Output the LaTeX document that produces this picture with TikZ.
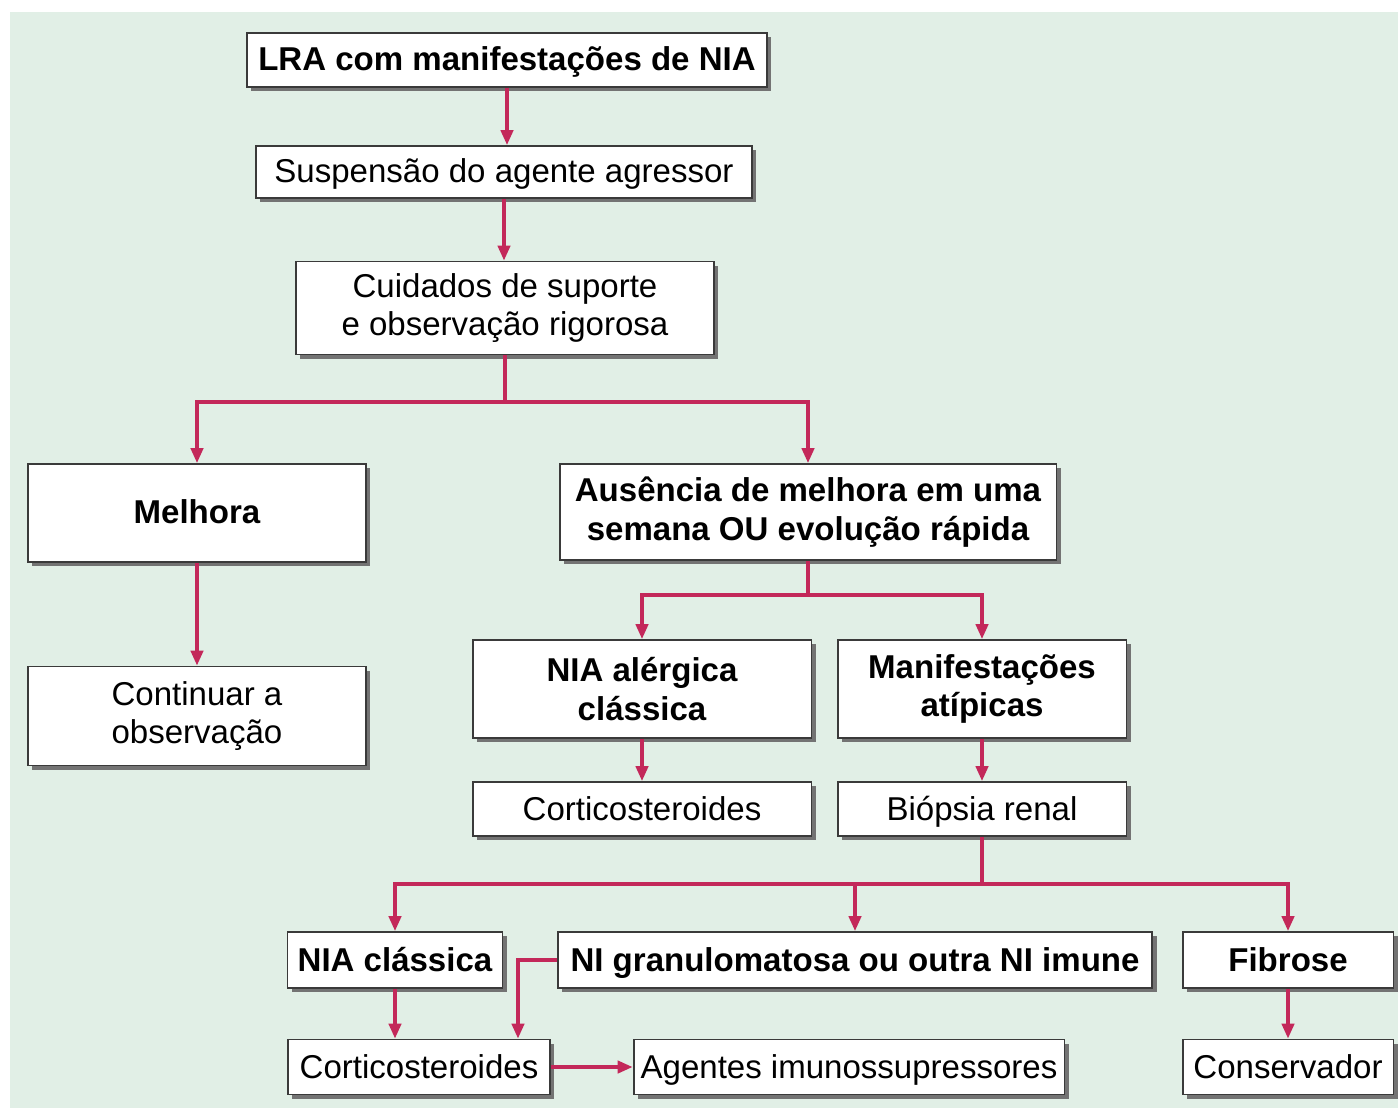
\documentclass[tikz,border=0pt]{standalone}
\usepackage{fontspec}
\setmainfont{Liberation Sans}
\usetikzlibrary{arrows.meta,shadows}
\definecolor{bgreen}{HTML}{E1EFE6}
\definecolor{crimson}{HTML}{C3285A}
\definecolor{edgegray}{HTML}{3A3A3A}
\tikzset{
  box/.style={draw=edgegray, line width=1.1pt, fill=white, inner sep=0pt, align=center,
    font=\fontsize{18.8}{22}\selectfont,
    drop shadow={shadow xshift=2.5pt, shadow yshift=-2.5pt, fill=black!55, opacity=1}},
  bbox/.style={box, font=\fontsize{18.8}{22}\selectfont\bfseries},
  oneline/.style={text height=13.5pt, text depth=1pt},
  link/.style={draw=crimson, line width=1.9pt},
  arr/.style={link, -{Triangle[length=8.5pt,width=7pt]}},
}
\begin{document}
\begin{tikzpicture}[x=0.02cm,y=-0.02cm]
                \useasboundingbox (0,0) rectangle (1398,1113);
                \fill[white] (0,0) rectangle (1398,1113);
                \fill[bgreen] (10,12) rectangle (1398,1108);
                % boxes
                \node[bbox, oneline, minimum width=10.4cm, minimum height=1.08cm] (LRA) at (507,60) {LRA com manifestações de NIA};
                \node[box, oneline, minimum width=9.92cm, minimum height=1.04cm] (SUS) at (504,172) {Suspensão do agente agressor};
                \node[box, minimum width=8.36cm, minimum height=1.86cm] (CUI) at (505,308) {Cuidados de suporte\\e observação rigorosa};
                \node[bbox, oneline, minimum width=6.76cm, minimum height=1.96cm] (MEL) at (197,513) {Melhora};
                \node[bbox, minimum width=9.94cm, minimum height=1.92cm] (AUS) at (808,512) {Ausência de melhora em uma\\semana OU evolução rápida};
                \node[box, minimum width=6.76cm, minimum height=1.98cm] (CON) at (197,716) {Continuar a\\observação};
                \node[bbox, minimum width=6.78cm, minimum height=1.96cm] (NAL) at (642,689) {NIA alérgica\\clássica};
                \node[bbox, minimum width=5.78cm, minimum height=1.96cm] (MAT) at (982,689) {Manifestações\\atípicas};
                \node[box, oneline, minimum width=6.78cm, minimum height=1.08cm] (CO1) at (642,809) {Corticosteroides};
                \node[box, oneline, minimum width=5.78cm, minimum height=1.08cm] (BIO) at (982,809) {Biópsia renal};
                \node[bbox, oneline, minimum width=4.3cm, minimum height=1.12cm] (NCL) at (395,960) {NIA clássica};
                \node[bbox, oneline, minimum width=11.9cm, minimum height=1.12cm] (NGR) at (855,960) {NI granulomatosa ou outra NI imune};
                \node[bbox, oneline, minimum width=4.22cm, minimum height=1.12cm] (FIB) at (1288,960) {Fibrose};
                \node[box, oneline, minimum width=5.24cm, minimum height=1.1cm] (CO2) at (419,1067) {Corticosteroides};
                \node[box, oneline, minimum width=8.62cm, minimum height=1.1cm] (AGE) at (849,1067) {Agentes imunossupressores};
                \node[box, oneline, minimum width=4.22cm, minimum height=1.1cm] (CSV) at (1288,1067) {Conservador};
                % junctions
                \coordinate (J1) at (505,402);
                \coordinate (J2) at (808,595);
                \coordinate (J3) at (982,884);
                % connectors
                \draw[arr] (LRA.south) -- (LRA.south |- SUS.north);
                \draw[arr] (SUS.south) -- (SUS.south |- CUI.north);
                \draw[link] (CUI.south) -- (J1);
                \draw[arr] (J1) -| (MEL.north);
                \draw[arr] (J1) -| (AUS.north);
                \draw[arr] (MEL) -- (CON);
                \draw[link] (AUS.south) -- (J2);
                \draw[arr] (J2) -| (NAL.north);
                \draw[arr] (J2) -| (MAT.north);
                \draw[arr] (NAL) -- (CO1);
                \draw[arr] (MAT) -- (BIO);
                \draw[link] (BIO.south) -- (J3);
                \draw[arr] (J3) -| (NCL.north);
                \draw[arr] (J3) -| (NGR.north);
                \draw[arr] (J3) -| (FIB.north);
                \draw[arr] (NCL.south) -- (NCL.south |- CO2.north);
                \draw[arr] (NGR.west) -| ([xshift=1.98cm]CO2.north);
                \draw[arr] (CO2) -- (AGE);
                \draw[arr] (FIB) -- (CSV);
            \end{tikzpicture}
\end{document}
